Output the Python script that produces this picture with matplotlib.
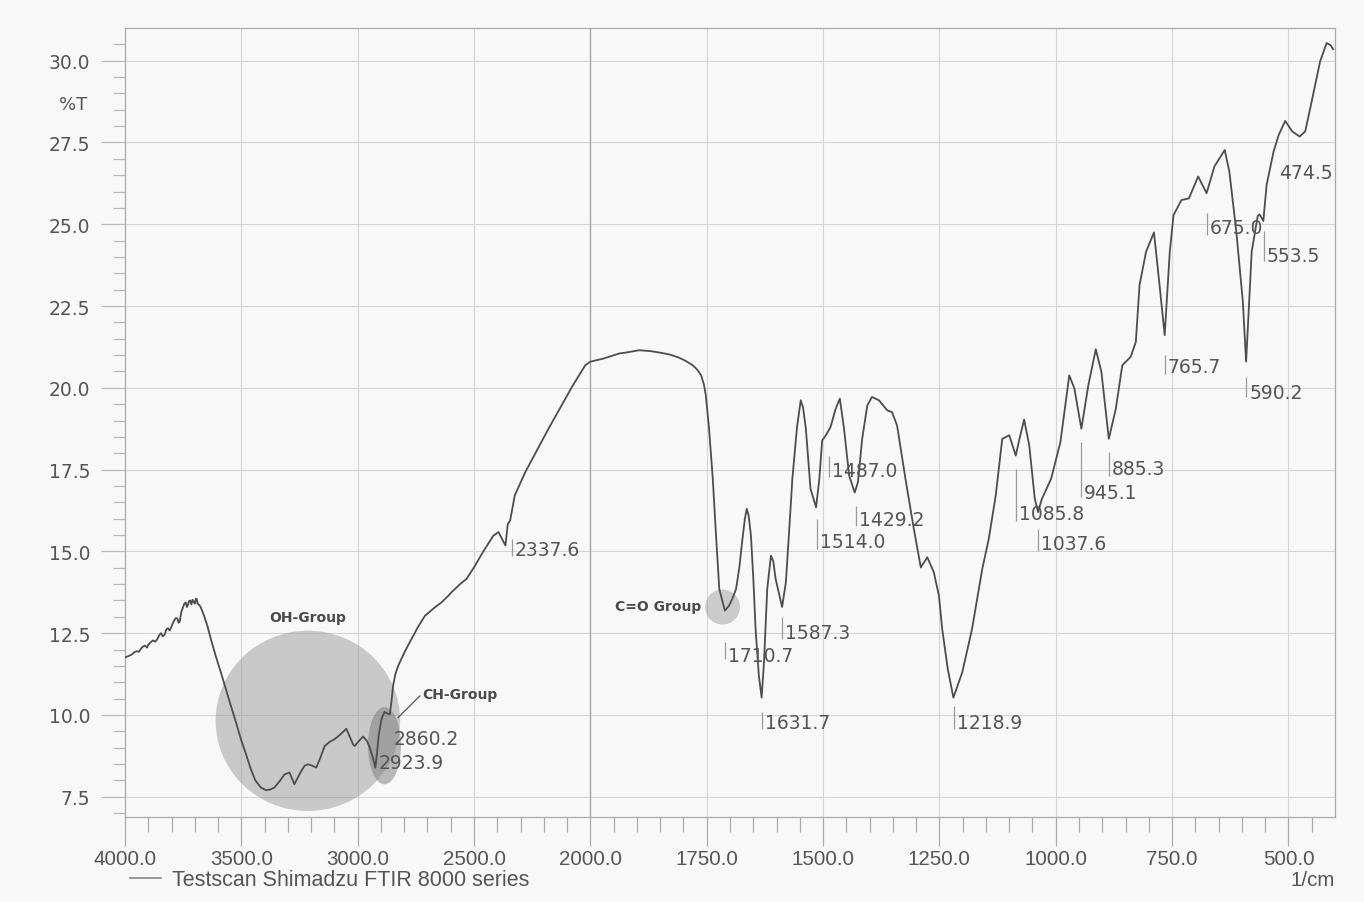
import numpy as np
import matplotlib
matplotlib.use('Agg')
import matplotlib.pyplot as plt
from matplotlib.patches import Ellipse

# spectrum (wavenumber 1/cm, %T)
wavenumber = [4000, 3985, 3970, 3960, 3950, 3940, 3933, 3925, 3915, 3905, 3900, 3890,
              3880, 3870, 3861, 3852, 3845, 3838, 3830, 3822, 3815, 3808, 3800, 3795,
              3789, 3782, 3775, 3770, 3765, 3758, 3750, 3745, 3739, 3734, 3730, 3725,
              3720, 3715, 3710, 3705, 3700, 3696, 3692, 3688, 3685, 3680, 3675, 3660,
              3645, 3631, 3610, 3588, 3565, 3545, 3520, 3502, 3480, 3459, 3440, 3416,
              3394, 3375, 3358, 3335, 3315, 3300, 3293, 3282, 3272, 3260, 3243, 3228,
              3214, 3195, 3178, 3160, 3142, 3120, 3099, 3075, 3060, 3049, 3035, 3020,
              3013, 2995, 2977, 2960, 2948, 2935, 2924, 2916, 2910, 2898, 2885, 2875,
              2862, 2855, 2848, 2838, 2826, 2800, 2769, 2740, 2711, 2675, 2640, 2611,
              2597, 2560, 2532, 2496, 2460, 2417, 2395, 2365, 2355, 2345, 2325, 2280,
              2180, 2079, 2022, 2000, 1988, 1973, 1938, 1923, 1895, 1870, 1852, 1830,
              1809, 1795, 1780, 1770, 1762, 1756, 1752, 1745, 1737, 1730, 1723, 1711,
              1702, 1695, 1687, 1680, 1674, 1668, 1664, 1660, 1655, 1650, 1645, 1638,
              1632, 1627, 1620, 1612, 1607, 1602, 1588, 1580, 1573, 1566, 1556, 1548,
              1543, 1537, 1527, 1515, 1508, 1502, 1494, 1484, 1473, 1464, 1455, 1444,
              1432, 1425, 1416, 1405, 1395, 1380, 1362, 1352, 1341, 1323, 1305, 1290,
              1276, 1262, 1251, 1244, 1232, 1220, 1201, 1180, 1158, 1144, 1129, 1115,
              1100, 1086, 1078, 1068, 1057, 1045, 1038, 1030, 1010, 990, 971, 960,
              945, 930, 914, 902, 886, 871, 857, 839, 828, 820, 806, 789,
              777, 766, 755, 747, 730, 714, 694, 676, 659, 648, 637, 627,
              612, 598, 591, 579, 566, 562, 554, 547, 532, 521, 507, 492,
              476, 464, 450, 432, 418, 409, 404]
transmittance = [11.76, 11.80, 11.85, 11.92, 11.95, 11.93, 12.01, 12.08, 12.12, 12.06, 12.15, 12.22,
                 12.28, 12.24, 12.32, 12.45, 12.50, 12.40, 12.45, 12.62, 12.65, 12.58, 12.70, 12.80,
                 12.88, 12.96, 12.95, 12.82, 12.85, 13.15, 13.30, 13.40, 13.44, 13.30, 13.35, 13.48,
                 13.50, 13.38, 13.52, 13.45, 13.40, 13.55, 13.55, 13.40, 13.39, 13.35, 13.30, 13.03,
                 12.70, 12.32, 11.80, 11.30, 10.75, 10.28, 9.70, 9.26, 8.80, 8.34, 8.00, 7.78,
                 7.70, 7.72, 7.78, 7.98, 8.18, 8.22, 8.24, 8.05, 7.88, 8.05, 8.28, 8.45,
                 8.49, 8.45, 8.39, 8.70, 9.05, 9.18, 9.26, 9.40, 9.50, 9.58, 9.35, 9.10,
                 9.05, 9.20, 9.34, 9.20, 9.00, 8.70, 8.39, 8.90, 9.36, 9.87, 10.09, 10.05,
                 10.02, 10.40, 10.89, 11.25, 11.50, 11.90, 12.32, 12.70, 13.03, 13.25, 13.44, 13.64,
                 13.75, 14.00, 14.16, 14.56, 15.00, 15.48, 15.59, 15.18, 15.84, 15.94, 16.71, 17.42,
                 18.75, 20.03, 20.69, 20.80, 20.84, 20.89, 21.05, 21.08, 21.15, 21.12, 21.08, 21.02,
                 20.92, 20.82, 20.69, 20.55, 20.38, 20.10, 19.77, 18.75, 17.22, 15.48, 13.85, 13.19,
                 13.34, 13.55, 13.85, 14.50, 15.28, 16.00, 16.30, 16.10, 15.48, 14.20, 12.62, 11.20,
                 10.53, 11.60, 13.85, 14.87, 14.70, 14.16, 13.30, 14.05, 15.60, 17.22, 18.80, 19.62,
                 19.40, 18.75, 16.91, 16.35, 17.22, 18.39, 18.55, 18.80, 19.36, 19.67, 18.75, 17.32,
                 16.80, 17.12, 18.44, 19.46, 19.72, 19.62, 19.31, 19.26, 18.85, 17.22, 15.69, 14.51,
                 14.82, 14.36, 13.64, 12.62, 11.40, 10.53, 11.30, 12.62, 14.46, 15.38, 16.71, 18.44,
                 18.55, 17.93, 18.44, 19.03, 18.24, 16.60, 16.20, 16.60, 17.22, 18.34, 20.38, 19.98,
                 18.75, 20.08, 21.18, 20.49, 18.44, 19.36, 20.69, 20.95, 21.40, 23.14, 24.16, 24.75,
                 23.14, 21.61, 24.16, 25.28, 25.74, 25.79, 26.46, 25.95, 26.77, 27.02, 27.27, 26.61,
                 24.77, 22.63, 20.80, 24.16, 25.26, 25.30, 25.10, 26.20, 27.22, 27.73, 28.16, 27.84,
                 27.68, 27.84, 28.76, 29.98, 30.54, 30.47, 30.35]

# peak labels: value, text x (1/cm), text y (%T), tick top, tick bottom
peak_labels = ['2337.6', '2860.2', '2923.9', '1710.7', '1631.7', '1587.3', '1514.0',
               '1487.0', '1429.2', '1218.9', '1085.8', '1037.6', '945.1', '885.3',
               '765.7', '590.2', '675.0', '553.5', '474.5']
label_x = [2337.6, 2860.2, 2923.9, 1710.7, 1631.7, 1587.3, 1514.0,
           1487.0, 1429.2, 1218.9, 1085.8, 1037.6, 945.1, 885.3,
           765.7, 590.2, 675.0, 553.5, 527.0]
label_y = [15.05, 9.28, 8.56, 11.81, 9.77, 12.53, 15.29,
           17.47, 15.97, 9.77, 16.15, 15.23, 16.81, 17.53,
           20.64, 19.87, 24.90, 24.06, 26.59]
tick_top = [15.38, None, None, 12.22, 10.08, 12.99, 15.99,
            17.92, 16.39, 10.27, 17.53, 15.69, 18.35, 18.05,
            20.99, 20.34, 25.34, 24.78, None]
tick_bot = [14.87, None, None, 11.70, 9.56, 12.31, 15.07,
            17.28, 15.78, 9.56, 15.93, 15.02, 16.67, 17.31,
            20.43, 19.73, 24.66, 23.89, None]

x_major = [4000, 3500, 3000, 2500, 2000, 1750, 1500, 1250, 1000, 750, 500]
x_minor = list(range(3900, 2000, -100)) + list(range(1950, 400, -50))
y_major = [7.5, 10.0, 12.5, 15.0, 17.5, 20.0, 22.5, 25.0, 27.5, 30.0]


def fwd(w):
    # Shimadzu chart: 4000-2000 at half the scale of 2000-400
    w = np.asarray(w, dtype=float)
    return np.where(w > 2000, 2000 + (w - 2000) / 2.0, w)


def inv(u):
    u = np.asarray(u, dtype=float)
    return np.where(u > 2000, 2000 + (u - 2000) * 2.0, u)


TXT = '#555555'
bg = '#f8f8f8'

fig = plt.figure(figsize=(13.64, 9.03), dpi=100, facecolor=bg)
ax = fig.add_axes([125 / 1364, 1 - 818 / 903, 1210 / 1364, 789 / 903], facecolor=bg)
ax.set_xscale('function', functions=(fwd, inv))
ax.set_xlim(4000, 400)
ax.set_ylim(6.88, 31.0)

ax.plot(wavenumber, transmittance, color='#4d4d4d', lw=1.3, zorder=4,
        label='Testscan Shimadzu FTIR 8000 series')

# group highlights
ax.add_patch(Ellipse((3214, 9.82), 793, 5.51, facecolor='#9a9a9a', alpha=0.5,
                     edgecolor='none', zorder=2))
ax.add_patch(Ellipse((2885, 9.06), 142, 2.36, facecolor='#7a7a7a', alpha=0.5,
                     edgecolor='none', zorder=3))
ax.add_patch(Ellipse((1716, 13.3), 75, 1.07, facecolor='#a0a0a0', alpha=0.5,
                     edgecolor='none', zorder=3))
ax.text(3214, 12.98, 'OH-Group', ha='center', va='center', fontsize=10,
        fontweight='bold', color='#4a4a4a')
ax.text(2723, 10.63, 'CH-Group', ha='left', va='center', fontsize=10,
        fontweight='bold', color='#4a4a4a')
ax.plot([2733, 2826], [10.58, 9.92], color='#555555', lw=0.9, zorder=4)
ax.text(1762, 13.34, 'C=O Group', ha='right', va='center', fontsize=10,
        fontweight='bold', color='#4a4a4a')

for lab, lx, ly, t0, t1 in zip(peak_labels, label_x, label_y, tick_top, tick_bot):
    if t0 is not None:
        ax.vlines(lx, t1, t0, color='#9a9a9a', lw=0.9, zorder=3)
    ax.annotate(lab, (lx, ly), xytext=(3, 0), textcoords='offset pixels',
                ha='left', va='center', fontsize=13.5, color=TXT, zorder=5)

# axes styling
ax.set_xticks(x_major)
ax.set_xticks(x_minor, minor=True)
ax.set_xticklabels(['%.1f' % v for v in x_major], fontfamily='Liberation Sans',
                   fontsize=14.8, color=TXT)
ax.set_yticks(y_major)
ax.set_yticks(np.arange(7.0, 31.0, 0.5), minor=True)
ax.set_yticklabels(['%.1f' % v for v in y_major], fontsize=13.5, color=TXT)
ax.tick_params(axis='x', which='major', length=21, width=0.9, color='#aaaaaa', pad=2)
ax.tick_params(axis='x', which='minor', length=11, width=0.9, color='#aaaaaa')
ax.tick_params(axis='y', which='major', length=17, width=0.9, color='#bbbbbb', pad=8)
ax.tick_params(axis='y', which='minor', length=8.5, width=0.9, color='#bbbbbb')
ax.grid(True, which='major', color='#d4d4d4', lw=0.8, zorder=0)
ax.set_axisbelow(True)
ax.axvline(2000, color='#a8a8a8', lw=1.0, zorder=1)
for s in ax.spines.values():
    s.set_color('#aaaaaa')
    s.set_linewidth(0.9)

fig.text(87 / 1364, 1 - 105 / 903, '%T', ha='right', va='center', fontsize=13, color=TXT)
fig.text(1335 / 1364, 1 - 881 / 903, '1/cm', ha='right', va='center',
         fontfamily='Liberation Sans', fontsize=14.8, color=TXT)

leg = ax.legend(loc='center left', bbox_to_anchor=(130 / 1364, 1 - 881 / 903),
                bbox_transform=fig.transFigure, frameon=False, borderpad=0,
                borderaxespad=0, handlelength=1.45, handletextpad=0.5,
                prop={'family': 'Liberation Sans', 'size': 15.5})
for t in leg.get_texts():
    t.set_color(TXT)
for h in leg.get_lines():
    h.set_color('#888888')
    h.set_linewidth(1.2)

fig.savefig('out.png', dpi=100, facecolor=bg)
plt.close(fig)
